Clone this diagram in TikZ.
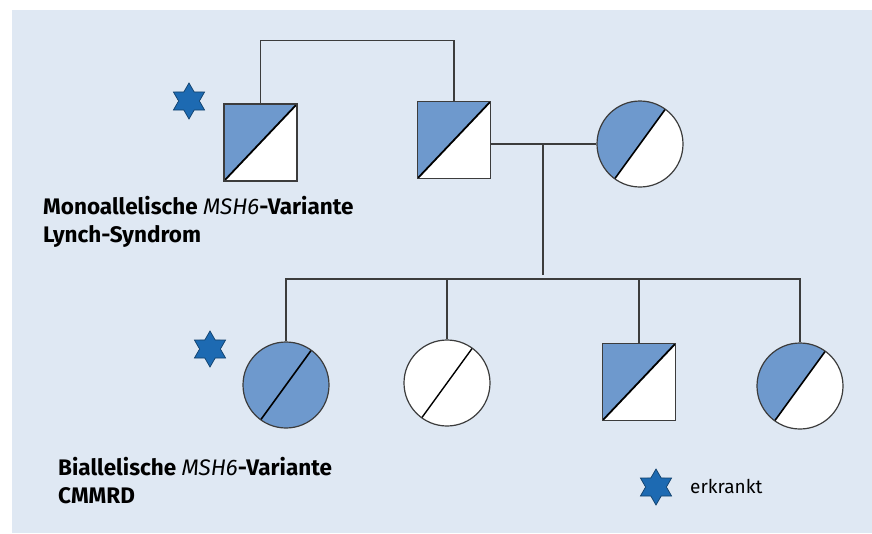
\documentclass[tikz,border=0pt]{standalone}
\usepackage{fontspec}
\setmainfont{Fira Sans}
\usetikzlibrary{shapes.geometric}
\definecolor{bg}{HTML}{DFE8F3}
\definecolor{aff}{HTML}{6E99CD}
\definecolor{starc}{HTML}{1D6AB2}
\definecolor{ln}{HTML}{3C3C3C}
\begin{document}
\begin{tikzpicture}[x=1pt,y=1pt,
  conn/.style={draw=ln, line width=1.1pt},
  sq/.style={draw=ln, line width=1.2pt, minimum width=73pt, minimum height=77pt, inner sep=0pt, fill=white},
  sqhalf/.style={sq, path picture={
      \fill[aff] (path picture bounding box.south west) -- (path picture bounding box.north west) -- (path picture bounding box.north east) -- cycle;
      \draw[black, line width=1.8pt] (path picture bounding box.south west) -- (path picture bounding box.north east);}},
  circ/.style={circle, draw=ln, line width=1.2pt, minimum size=86pt, inner sep=0pt, fill=white},
  circhalf/.style={circ, path picture={
      \fill[aff] (path picture bounding box.center) ++(54:60) -- ++(144:60) -- ++(234:120) -- ++(324:60) -- cycle;
      \draw[black, line width=1.6pt] (path picture bounding box.center) ++(54:50) -- ++(234:100);}},
  circfull/.style={circ, fill=aff, path picture={
      \draw[black, line width=1.6pt] (path picture bounding box.center) ++(54:50) -- ++(234:100);}},
  circnone/.style={circ, path picture={
      \draw[black, line width=1.4pt] (path picture bounding box.center) ++(54:50) -- ++(234:100);}},
  affstar/.style={star, star points=6, star point ratio=1.73, minimum size=36pt, inner sep=0pt, fill=starc, draw=starc!60!black, line width=0.7pt},
  lab/.style={font=\fontsize{22.5}{27.5}\selectfont\bfseries, align=left, inner sep=0pt}
]
\useasboundingbox (0,0) rectangle (872,-533);
\fill[bg] (12,-10) rectangle (872,-533);

% generation I
\node[sqhalf] (gf1) at (260.5,-142.5) {};
\node[sqhalf] (gf2) at (454,-140) {};
\node[circhalf] (mo) at (640,-144) {};
\node[affstar] (s1) at (189,-101) {};

\draw[conn] (gf1.north) -- ++(0,63) -| (gf2.north);
\draw[conn] (mo.west) -- (mo.west -| gf2.east);
\coordinate (m) at (543,-145);
\coordinate (d) at (543,-275);
\draw[conn] (m) -- (d);

% generation II
\node[circfull] (c1) at (286,-385) {};
\node[circnone] (c2) at (447,-383) {};
\node[sqhalf] (c3) at (639,-382) {};
\node[circhalf] (c4) at (800,-386) {};
\node[affstar] (s2) at (210,-349) {};

\coordinate (sib) at (0,-279);
\draw[conn] (c1.north) -- (c1.north |- sib) -- (c4.north |- sib) -- (c4.north);
\draw[conn] (c2.north) -- (c2.north |- sib);
\draw[conn] (c3.north) -- (c3.north |- sib);

% labels
\node[lab, anchor=base west] (l1) at (43,-242) {Monoallelische \textit{\mdseries MSH6}-Variante\\Lynch-Syndrom};
\node[lab, anchor=base west] (l2) at (58,-503) {Biallelische \textit{\mdseries MSH6}-Variante\\CMMRD};

% legend
\node[affstar] (ls) at (656,-487) {};
\node[font=\fontsize{19}{22}\selectfont, anchor=base west, inner sep=0pt] (lt) at (690,-493) {erkrankt};
\end{tikzpicture}
\end{document}
